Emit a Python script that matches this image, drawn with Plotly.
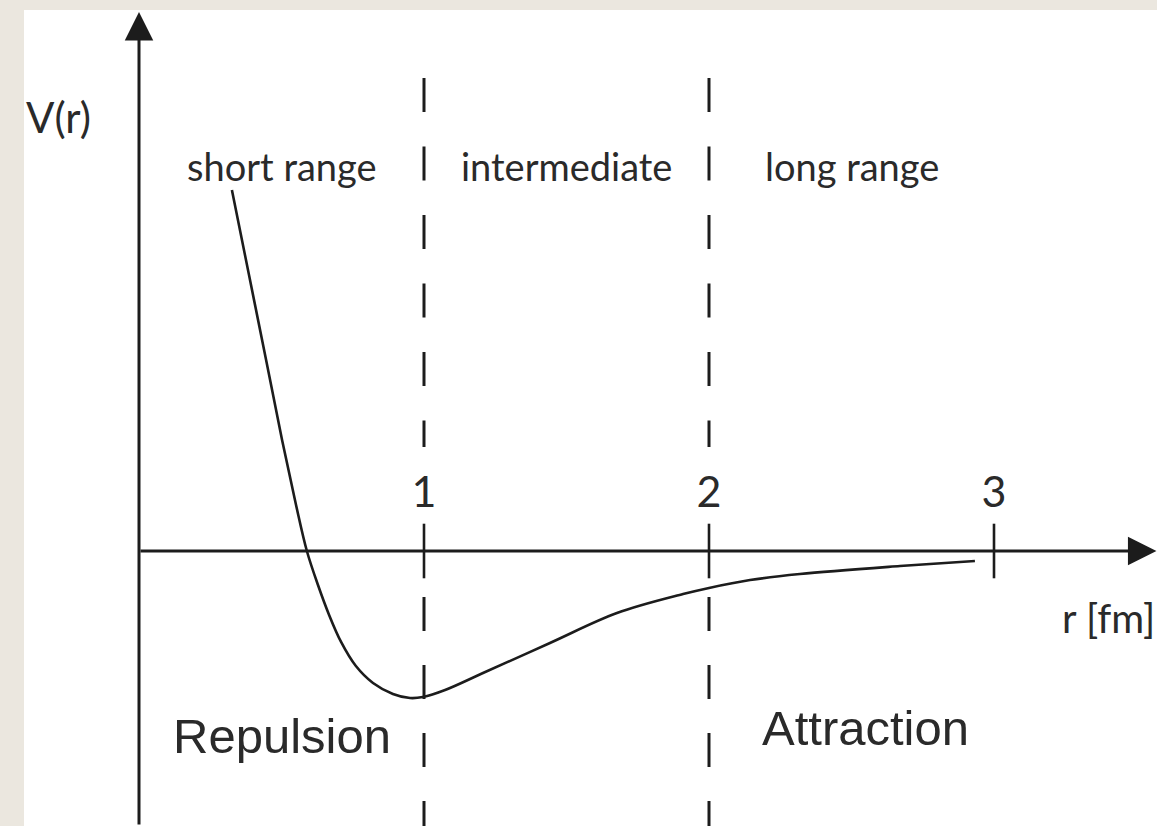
import plotly.graph_objects as go

# ---- data ----
r_fm = [0.326, 0.386, 0.446, 0.502, 0.551, 0.589, 0.628, 0.667, 0.709, 0.761,
        0.821, 0.891, 0.951, 0.996, 1.074, 1.207, 1.442, 1.677, 1.909, 2.000,
        2.144, 2.319, 2.670, 2.933]
V_r = [2.473, 1.890, 1.308, 0.760, 0.315, 0.000, -0.233, -0.438, -0.623, -0.788,
       -0.904, -0.979, -1.007, -1.000, -0.952, -0.836, -0.630, -0.425, -0.295, -0.253,
       -0.199, -0.158, -0.103, -0.068]

region_edges = [0, 1, 2, 3]
region_names = ["short range", "intermediate", "long range"]
boundaries = [1, 2]
tick_vals = [1, 2, 3]
tick_text = ["1", "2", "3"]

# ---- layout constants ----
W, H = 1157, 826
X_RANGE = [-0.40351, 3.57193]
Y_RANGE = [-1.88356, 3.70548]
INK = "#1c1c1c"
TXT = "#2a2a2a"
FONT = "Lato"
BEIGE = "#ebe7df"

fig = go.Figure()

# potential curve
fig.add_trace(go.Scatter(
    x=r_fm, y=V_r, mode="lines",
    line=dict(color=INK, width=2.6, shape="spline", smoothing=1.0),
    hoverinfo="skip", showlegend=False))

# tick marks crossing the r axis
fig.add_trace(go.Scatter(
    x=tick_vals, y=[0] * len(tick_vals), mode="markers",
    marker=dict(symbol="line-ns", size=39, line=dict(color=INK, width=2.6)),
    hoverinfo="skip", showlegend=False))

shapes = []
for b in boundaries:
    shapes.append(dict(type="line", xref="x", yref="y", x0=b, x1=b, y0=3.240, y1=0.712,
                       line=dict(color=INK, width=3, dash="34px,34.5px")))
    shapes.append(dict(type="line", xref="x", yref="y", x0=b, x1=b, y0=-0.315, y1=Y_RANGE[0],
                       line=dict(color=INK, width=3, dash="34px,34px")))

annotations = []
# axes with arrowheads
annotations.append(dict(x=0, y=3.692, ax=0, ay=Y_RANGE[0], xref="x", yref="y",
                        axref="x", ayref="y", text="", showarrow=True,
                        arrowhead=2, arrowwidth=3, arrowsize=1.9, arrowcolor=INK))
annotations.append(dict(x=3.570, y=0, ax=0, ay=0, xref="x", yref="y",
                        axref="x", ayref="y", text="", showarrow=True,
                        arrowhead=2, arrowwidth=3, arrowsize=1.9, arrowcolor=INK))

# region names
for i, name in enumerate(region_names):
    cx = 0.5 * (region_edges[i] + region_edges[i + 1])
    annotations.append(dict(x=cx, y=2.64, xref="x", yref="y", text=name, showarrow=False,
                            xanchor="center", yanchor="middle",
                            font=dict(family=FONT, size=38, color=TXT)))

annotations.append(dict(x=0, y=2.97, xref="paper", yref="y", text="V(r)", showarrow=False,
                        xanchor="left", yanchor="middle",
                        font=dict(family=FONT, size=42, color=TXT)))
annotations.append(dict(x=1, y=-0.46, xref="paper", yref="y", text="r [fm]", showarrow=False,
                        xanchor="right", yanchor="middle",
                        font=dict(family=FONT, size=40, color=TXT)))
annotations.append(dict(x=0.5, y=-1.27, xref="x", yref="y", text="Repulsion", showarrow=False,
                        xanchor="center", yanchor="middle",
                        font=dict(family="Liberation Sans", size=49, color=TXT)))
annotations.append(dict(x=2.55, y=-1.21, xref="x", yref="y", text="Attraction", showarrow=False,
                        xanchor="center", yanchor="middle",
                        font=dict(family="Liberation Sans", size=49, color=TXT)))

zero_pos = (0 - Y_RANGE[0]) / (Y_RANGE[1] - Y_RANGE[0])

fig.update_layout(
    width=W, height=H,
    margin=dict(l=24, r=0, t=10, b=0, pad=0),
    paper_bgcolor=BEIGE,
    plot_bgcolor="#ffffff",
    shapes=shapes,
    annotations=annotations,
    showlegend=False,
    xaxis=dict(range=X_RANGE, showgrid=False, zeroline=False, showline=False,
               side="top", anchor="free", position=zero_pos,
               tickmode="array", tickvals=tick_vals, ticktext=tick_text,
               ticks="outside", ticklen=27, tickcolor="rgba(0,0,0,0)",
               tickfont=dict(family=FONT, size=43, color=TXT)),
    yaxis=dict(range=Y_RANGE, showgrid=False, zeroline=False, showline=False,
               showticklabels=False, ticks=""),
)

fig.write_html(
    "out.html",
    config={"displayModeBar": False},
    post_script=("document.body.style.margin='0px';"
                 "document.body.style.overflow='hidden';"
                 "document.body.style.background='" + BEIGE + "';"),
)
